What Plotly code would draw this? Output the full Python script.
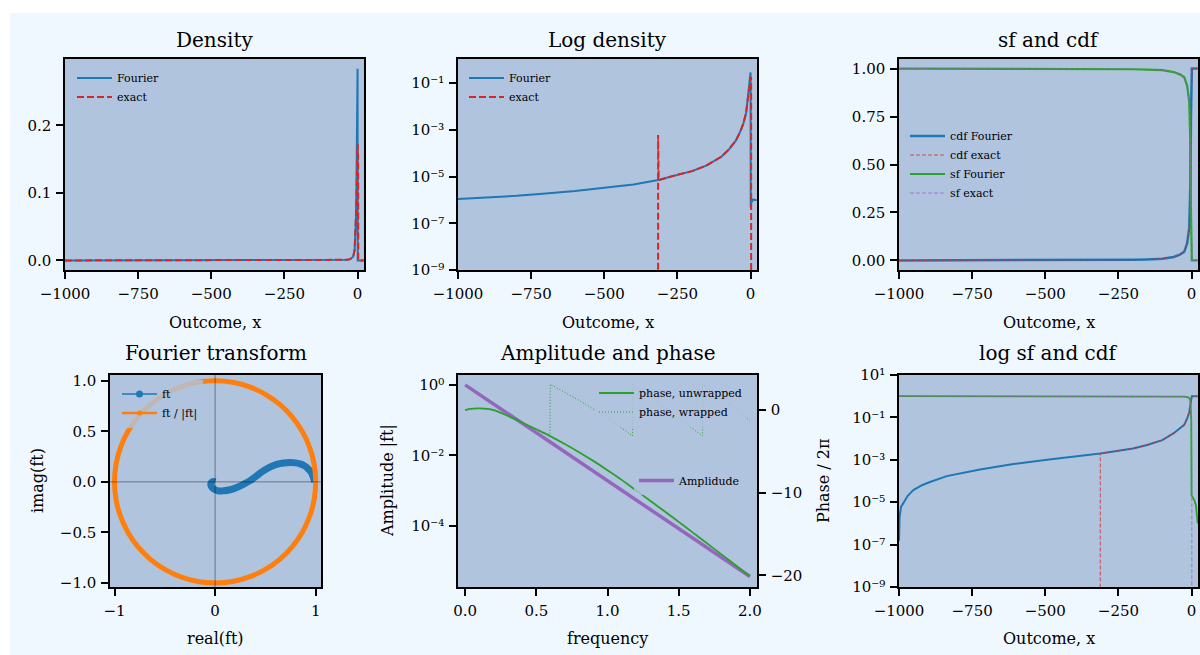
import plotly.graph_objects as go
import numpy as np

# ---------------- data ----------------
x_pdf = [-1000, -900, -800, -700, -600, -500, -400, -320, -250, -200, -150, -100, -75, -50,
         -35, -25, -15, -10, -6, -4, -2, -1, 0, 0.5, 1, 3, 6, 10, 15, 21]
pdf_fourier = [1.1e-6, 1.25e-6, 1.5e-6, 1.9e-6, 2.4e-6, 3.3e-6, 4.6e-6, 7.0e-6, 1.2e-5, 1.7e-5,
               3.0e-5, 7.0e-5, 1.4e-4, 3.5e-4, 8.5e-4, 1.8e-3, 5.5e-3, 1.6e-2, 5.5e-2, 0.1,
               0.18, 0.24, 0.284, 4.8e-7, 6e-7, 1.1e-6, 9e-7, 1.05e-6, 1.0e-6, 1.0e-6]

x_pdf_exact = [-1000, -318, -316, -314, -250, -200, -150, -100, -75, -50, -35, -25, -15, -10,
               -6, -4, -2, -1, 0, 1, 2, 2.5, 21]
pdf_exact = [0, 0, 6e-4, 7e-6, 1.2e-5, 1.7e-5, 3.0e-5, 7.0e-5, 1.4e-4, 3.5e-4, 8.5e-4, 1.8e-3,
             5.5e-3, 1.6e-2, 5.0e-2, 0.085, 0.13, 0.155, 0.172, 0.17, 0.15, 0, 0]

x_cdf = [-1000, -998, -993, -985, -970, -951, -920, -894, -837, -723, -609, -494, -400, -312,
         -250, -200, -152, -100, -61, -40, -25, -15, -8, -4, -2, -1, 0, 0.5, 1, 5, 10, 15, 21]
cdf_fourier = [1.5e-7, 2e-6, 6e-6, 9e-6, 2e-5, 3.7e-5, 6.5e-5, 9e-5, 1.7e-4, 3.5e-4, 6.3e-4,
               1.0e-3, 1.4e-3, 2.0e-3, 2.7e-3, 3.4e-3, 5.0e-3, 8.5e-3, 1.8e-2, 3.0e-2, 4.5e-2,
               0.09, 0.17, 0.4, 0.75, 0.92, 1.0, 1.0, 1.0, 1.0, 1.0, 1.0, 1.0]
sf_fourier = [1.0, 1.0, 1.0, 1.0, 1.0, 1.0, 0.9999, 0.9999, 0.9998, 0.9996, 0.9994, 0.999,
              0.9986, 0.998, 0.9973, 0.9966, 0.995, 0.9915, 0.982, 0.97, 0.955, 0.91, 0.83,
              0.6, 0.25, 0.08, 2.1e-5, 2.0e-5, 1.9e-5, 1.6e-5, 1.2e-5, 7e-6, 1e-6]

x_cdf_exact = [-1000, -316, -312, -250, -200, -152, -100, -61, -40, -25, -15, -8, -4, -2, -1,
               0, 1, 2, 21]
cdf_exact = [0, 0, 2.0e-3, 2.7e-3, 3.4e-3, 5.0e-3, 8.5e-3, 1.8e-2, 3.0e-2, 4.5e-2, 0.09, 0.17,
             0.4, 0.75, 0.92, 0.99, 1.0, 1.0, 1.0]
sf_exact = [1.0, 1.0, 0.998, 0.9973, 0.9966, 0.995, 0.9915, 0.982, 0.97, 0.955, 0.91, 0.83,
            0.6, 0.25, 0.08, 0.01, 1e-4, 0, 0]

ft_re = [0.99, 0.975, 0.955, 0.927, 0.89, 0.844, 0.80, 0.745, 0.68, 0.612, 0.545, 0.48, 0.415,
         0.348, 0.28, 0.215, 0.15, 0.083, 0.035, 0.0, -0.028, -0.043, -0.038, -0.02, 0.0]
ft_im = [0.0, 0.05, 0.095, 0.128, 0.158, 0.178, 0.188, 0.191, 0.186, 0.172, 0.145, 0.109, 0.06,
         0.012, -0.025, -0.056, -0.078, -0.089, -0.09, -0.078, -0.058, -0.03, -0.008, 0.004, 0.0]

unit_re = [1.0, 0.985, 0.940, 0.866, 0.766, 0.643, 0.5, 0.342, 0.174, 0.0, -0.174, -0.342, -0.5,
           -0.643, -0.766, -0.866, -0.940, -0.985, -1.0, -0.985, -0.940, -0.866, -0.766, -0.643,
           -0.5, -0.342, -0.174, 0.0, 0.174, 0.342, 0.5, 0.643, 0.766, 0.866, 0.940, 0.985, 1.0]
unit_im = [0.0, 0.174, 0.342, 0.5, 0.643, 0.766, 0.866, 0.940, 0.985, 1.0, 0.985, 0.940, 0.866,
           0.766, 0.643, 0.5, 0.342, 0.174, 0.0, -0.174, -0.342, -0.5, -0.643, -0.766, -0.866,
           -0.940, -0.985, -1.0, -0.985, -0.940, -0.866, -0.766, -0.643, -0.5, -0.342, -0.174, 0.0]

freq_amp = [0, 0.25, 0.5, 0.75, 1.0, 1.25, 1.5, 1.75, 2.0]
amplitude = [1.0, 0.209, 0.0437, 9.1e-3, 1.9e-3, 4.0e-4, 8.3e-5, 1.7e-5, 3.6e-6]

freq_unw = [0, 0.035, 0.105, 0.2, 0.3, 0.4, 0.5, 0.597, 0.7, 0.8, 0.9, 1.0, 1.1, 1.177, 1.3,
            1.4, 1.5, 1.6, 1.668, 1.75, 1.85, 1.95, 2.0]
phase_unw = [0, 0.15, 0.2, 0.0, -0.7, -1.5, -2.32, -3.14, -4.10, -5.09, -6.14, -7.26, -8.44,
             -9.42, -10.96, -12.23, -13.52, -14.82, -15.71, -16.79, -18.11, -19.43, -20.09]

freq_wr = [0, 0.035, 0.105, 0.2, 0.3, 0.4, 0.5, 0.596, 0.598, 0.7, 0.8, 0.9, 1.0, 1.1, 1.176,
           1.178, 1.3, 1.4, 1.5, 1.6, 1.667, 1.669, 1.75, 1.85, 1.95, 2.0]
phase_wr = [0, 0.15, 0.2, 0.0, -0.7, -1.5, -2.32, -3.13, 3.13, 2.18, 1.19, 0.14, -0.98, -2.16,
            -3.13, 3.13, 1.61, 0.34, -0.95, -2.25, -3.13, 3.13, 2.06, 0.74, -0.58, -1.24]

x_ticks = [-1000, -750, -500, -250, 0]

# ---------------- styling helpers ----------------
W, H = 1200, 655
FONT = "DejaVu Serif"
BLUE, ORANGE, GREEN, RED, PURPLE = "#1f77b4", "#ff7f0e", "#2ca02c", "#d62728", "#9467bd"
PANEL_BG = "#B0C4DE"
SUP = {"-": "\u207b", "0": "\u2070", "1": "\u00b9", "2": "\u00b2", "3": "\u00b3", "4": "\u2074",
       "5": "\u2075", "6": "\u2076", "7": "\u2077", "8": "\u2078", "9": "\u2079"}


def px_x(a, b):
    return [a / W, b / W]


def px_y(top, bottom):
    return [1 - bottom / H, 1 - top / H]


def floor_log(v):
    # matplotlib clips non-positive values on log axes to the bottom of the plot
    arr = np.asarray(v, dtype=float)
    return np.where(arr > 0, arr, 1e-300)


def pow10_label(v):
    p = int(round(np.log10(v)))
    return "10" + "".join(SUP[c] for c in str(p))


axis_common = dict(showline=True, linecolor="black", linewidth=1.5, mirror=True,
                   ticks="outside", ticklen=7, tickwidth=1.5, tickcolor="black",
                   showgrid=False, zeroline=False, automargin=False,
                   tickfont=dict(family=FONT, size=15, color="black"))


def xax(domain, rng, anchor, **kw):
    d = dict(axis_common)
    d.update(domain=domain, range=rng, anchor=anchor, ticklabelstandoff=2)
    d.update(kw)
    return d


def yax(domain, rng, anchor, **kw):
    d = dict(axis_common)
    d.update(domain=domain, range=rng, anchor=anchor, ticklabelstandoff=2)
    d.update(kw)
    return d


top_row = px_y(59, 270)
bot_row = px_y(375, 587)
col1 = px_x(65, 364)
col2 = px_x(458, 757)
col3 = px_x(899, 1198)
col1b = px_x(110, 321)

fig = go.Figure()

# ---- Panel 1: Density ----
fig.add_trace(go.Scatter(x=x_pdf, y=pdf_fourier, mode="lines", name="Fourier",
                         line=dict(color=BLUE, width=2), xaxis="x", yaxis="y", legend="legend"))
fig.add_trace(go.Scatter(x=x_pdf_exact, y=pdf_exact, mode="lines", name="exact",
                         line=dict(color=RED, width=2, dash="7px,3px"), xaxis="x", yaxis="y",
                         legend="legend"))

# ---- Panel 2: Log density ----
fig.add_trace(go.Scatter(x=x_pdf, y=floor_log(pdf_fourier), mode="lines", name="Fourier",
                         line=dict(color=BLUE, width=2), xaxis="x2", yaxis="y2", legend="legend2"))
fig.add_trace(go.Scatter(x=x_pdf_exact, y=floor_log(pdf_exact), mode="lines", name="exact",
                         line=dict(color=RED, width=2, dash="7px,3px"), xaxis="x2", yaxis="y2",
                         legend="legend2"))

# ---- Panel 3: sf and cdf ----
fig.add_trace(go.Scatter(x=x_cdf, y=cdf_fourier, mode="lines", name="cdf Fourier",
                         line=dict(color=BLUE, width=2.5), xaxis="x3", yaxis="y3", legend="legend3"))
fig.add_trace(go.Scatter(x=x_cdf_exact, y=cdf_exact, mode="lines", name="cdf exact",
                         line=dict(color="rgba(214,39,40,0.75)", width=1, dash="4px,2px"),
                         xaxis="x3", yaxis="y3", legend="legend3"))
fig.add_trace(go.Scatter(x=x_cdf, y=sf_fourier, mode="lines", name="sf Fourier",
                         line=dict(color=GREEN, width=2.2), xaxis="x3", yaxis="y3", legend="legend3"))
fig.add_trace(go.Scatter(x=x_cdf_exact, y=sf_exact, mode="lines", name="sf exact",
                         line=dict(color="rgba(148,103,189,0.75)", width=1, dash="4px,2px"),
                         xaxis="x3", yaxis="y3", legend="legend3"))

# ---- Panel 4: Fourier transform ----
fig.add_trace(go.Scatter(x=ft_re, y=ft_im, mode="lines", showlegend=False,
                         line=dict(color=BLUE, width=7, shape="spline"), xaxis="x4", yaxis="y4"))
fig.add_trace(go.Scatter(x=unit_re, y=unit_im, mode="lines", showlegend=False,
                         line=dict(color=ORANGE, width=5, shape="spline"), xaxis="x4", yaxis="y4"))
fig.add_trace(go.Scatter(x=[None], y=[None], mode="lines+markers", name="ft",
                         line=dict(color=BLUE, width=1.5), marker=dict(color=BLUE, size=7),
                         xaxis="x4", yaxis="y4", legend="legend4"))
fig.add_trace(go.Scatter(x=[None], y=[None], mode="lines+markers", name="ft / |ft|",
                         line=dict(color=ORANGE, width=2.5), marker=dict(color=ORANGE, size=5),
                         xaxis="x4", yaxis="y4", legend="legend4"))

# ---- Panel 5: Amplitude and phase ----
fig.add_trace(go.Scatter(x=freq_amp, y=amplitude, mode="lines", name="Amplidude",
                         line=dict(color=PURPLE, width=3.5), xaxis="x5", yaxis="y5",
                         legend="legend6"))
fig.add_trace(go.Scatter(x=freq_unw, y=phase_unw, mode="lines", name="phase, unwrapped",
                         line=dict(color=GREEN, width=1.8, shape="spline"), xaxis="x5",
                         yaxis="y7", legend="legend5"))
fig.add_trace(go.Scatter(x=freq_wr, y=phase_wr, mode="lines", name="phase, wrapped",
                         line=dict(color=GREEN, width=1, dash="1px,2px"), xaxis="x5",
                         yaxis="y7", legend="legend5"))

# ---- Panel 6: log sf and cdf ----
fig.add_trace(go.Scatter(x=x_cdf, y=floor_log(cdf_fourier), mode="lines", showlegend=False,
                         line=dict(color=BLUE, width=2), xaxis="x6", yaxis="y6"))
fig.add_trace(go.Scatter(x=x_cdf_exact, y=floor_log(cdf_exact), mode="lines", showlegend=False,
                         line=dict(color="rgba(214,39,40,0.8)", width=1, dash="4px,2px"),
                         xaxis="x6", yaxis="y6"))
fig.add_trace(go.Scatter(x=x_cdf, y=floor_log(sf_fourier), mode="lines", showlegend=False,
                         line=dict(color=GREEN, width=1.8), xaxis="x6", yaxis="y6"))
fig.add_trace(go.Scatter(x=x_cdf_exact, y=floor_log(sf_exact), mode="lines", showlegend=False,
                         line=dict(color="rgba(148,103,189,0.8)", width=1, dash="4px,2px"),
                         xaxis="x6", yaxis="y6"))


def legend_at(left_px, top_px):
    return dict(x=left_px / W, y=1 - top_px / H, xanchor="left", yanchor="top",
                bgcolor="rgba(176,196,222,0.8)", borderwidth=0, tracegroupgap=0,
                itemwidth=35, font=dict(family=FONT, size=11, color="black"))


def ann(text, xc, yc, size, angle=0):
    return dict(text=text, x=xc / W, y=1 - yc / H, xref="paper", yref="paper",
                xanchor="center", yanchor="middle", showarrow=False, textangle=angle,
                font=dict(family=FONT, size=size, color="black"))


annotations = [
    ann("Density", 214.5, 40, 20), ann("Log density", 607.5, 40, 20), ann("sf and cdf", 1048.5, 40, 20),
    ann("Fourier transform", 215.5, 353, 20), ann("Amplitude and phase", 607.5, 353, 20),
    ann("log sf and cdf", 1048.5, 353, 20),
    ann("Outcome, x", 214.5, 322, 16), ann("Outcome, x", 607.5, 322, 16),
    ann("Outcome, x", 1048.5, 322, 16),
    ann("real(ft)", 215.5, 638, 16), ann("frequency", 607.5, 638, 16),
    ann("Outcome, x", 1048.5, 638, 16),
    ann("imag(ft)", 37, 481, 16, -90), ann("Amplitude |ft|", 387, 481, 16, -90),
    ann("Phase / 2\u03c0", 823, 481, 16, -90),
]

shapes = [
    dict(type="rect", xref="paper", yref="paper", x0=0, x1=10 / W, y0=0, y1=1,
         fillcolor="white", line=dict(width=0), layer="below"),
    dict(type="rect", xref="paper", yref="paper", x0=0, x1=1, y0=1 - 13 / H, y1=1,
         fillcolor="white", line=dict(width=0), layer="below"),
    dict(type="line", xref="x4", yref="y4 domain", x0=0, x1=0, y0=0, y1=1,
         line=dict(color="rgba(0,0,0,0.4)", width=1), layer="above"),
    dict(type="line", xref="x4 domain", yref="y4", x0=0, x1=1, y0=0, y1=0,
         line=dict(color="rgba(0,0,0,0.4)", width=1), layer="above"),
]

log_pdf_ticks = [1e-9, 1e-7, 1e-5, 1e-3, 1e-1]
log_sf_ticks = [1e-9, 1e-7, 1e-5, 1e-3, 1e-1, 10]
amp_ticks = [1e-4, 1e-2, 1]

fig.update_layout(
    width=W, height=H, margin=dict(l=0, r=0, t=0, b=0, pad=0, autoexpand=False),
    paper_bgcolor="#F0F8FF", plot_bgcolor=PANEL_BG,
    font=dict(family=FONT, color="black"),
    xaxis=xax(col1, [-1000, 22], "y", tickvals=x_ticks),
    yaxis=yax(top_row, [-0.0142, 0.2985], "x", tickvals=[0, 0.1, 0.2], tickformat=".1f"),
    xaxis2=xax(col2, [-1000, 22], "y2", tickvals=x_ticks),
    yaxis2=yax(top_row, [-9, 0.03], "x2", type="log", tickvals=log_pdf_ticks,
               ticktext=[pow10_label(v) for v in log_pdf_ticks]),
    xaxis3=xax(col3, [-1000, 22], "y3", tickvals=x_ticks),
    yaxis3=yax(top_row, [-0.05, 1.05], "x3", tickvals=[0, 0.25, 0.5, 0.75, 1.0], tickformat=".2f"),
    xaxis4=xax(col1b, [-1.045, 1.053], "y4", tickvals=[-1, 0, 1]),
    yaxis4=yax(bot_row, [-1.04, 1.057], "x4", tickvals=[-1, -0.5, 0, 0.5, 1], tickformat=".1f"),
    xaxis5=xax(col2, [-0.05, 2.05], "y5", tickvals=[0, 0.5, 1.0, 1.5, 2.0], tickformat=".1f"),
    yaxis5=yax(bot_row, [-5.74, 0.28], "x5", type="log", tickvals=amp_ticks,
               ticktext=[pow10_label(v) for v in amp_ticks]),
    yaxis7=dict(axis_common, overlaying="y5", side="right", anchor="x5", range=[-21.4, 4.25],
                tickvals=[-20, -10, 0], mirror=False, ticklabelstandoff=2),
    xaxis6=xax(col3, [-1000, 22], "y6", tickvals=x_ticks),
    yaxis6=yax(bot_row, [-9, 1], "x6", type="log", tickvals=log_sf_ticks,
               ticktext=[pow10_label(v) for v in log_sf_ticks]),
    legend=legend_at(72, 63.5),
    legend2=legend_at(464, 63.5),
    legend3=legend_at(905, 121.5),
    legend4=legend_at(117, 379.5),
    legend5=legend_at(594, 378.5),
    legend6=legend_at(634, 466),
    annotations=annotations,
    shapes=shapes,
)

fig.write_html("out.html")
